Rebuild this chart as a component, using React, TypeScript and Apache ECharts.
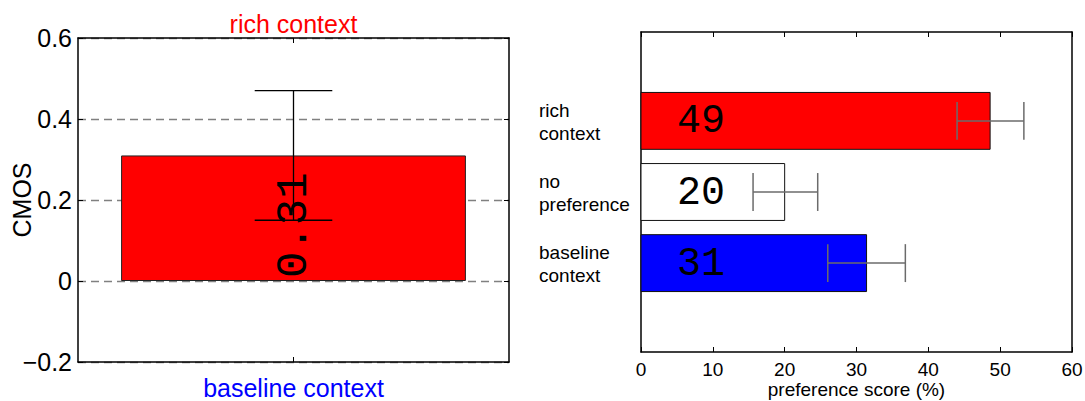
import React, { useEffect, useRef } from "react";
import * as echarts from "echarts";

// Left panel (CMOS)
const cmosBottomCategory = ["baseline context"];
const cmosTopCategory = ["rich context"];
const cmosValues = [0.31];
const cmosErrLow = [0.15];
const cmosErrHigh = [0.47];
const cmosLabels = ["0.31"];

// Right panel (preference)
const prefCategories = ["baseline\ncontext", "no\npreference", "rich\ncontext"];
const prefValues = [31.4, 20.0, 48.6];
const prefErrLow = [26.0, 15.6, 44.0];
const prefErrHigh = [36.8, 24.6, 53.3];
const prefLabels = ["31", "20", "49"];
const prefColors = ["#0000ff", "#ffffff", "#ff0000"];

const SANS = '"Liberation Sans", Arial, Helvetica, sans-serif';
const MONO = '"Liberation Mono", "DejaVu Sans Mono", monospace';

export default function App() {
  const ref = useRef<HTMLDivElement>(null);

  useEffect(() => {
    if (!ref.current) return;
    const chart = echarts.init(ref.current, undefined, { renderer: "svg" });

    const boxLine = { show: true, onZero: false, lineStyle: { color: "#000", width: 1.5 } };

    const option: any = {
      animation: false,
      backgroundColor: "#ffffff",
      textStyle: { fontFamily: SANS },
      grid: [
        { left: 78, top: 38, width: 431, height: 324, containLabel: false, outerBoundsMode: "none" },
        { left: 641, top: 32, width: 431, height: 320, containLabel: false, outerBoundsMode: "none" },
      ],
      xAxis: [
        {
          gridIndex: 0,
          type: "category",
          position: "bottom",
          data: cmosBottomCategory,
          axisLine: boxLine,
          axisTick: { show: true, inside: true, alignWithLabel: true, length: 5, lineStyle: { color: "#000" } },
          axisLabel: { color: "#0000ff", fontSize: 25, fontFamily: SANS, margin: 13 },
          splitLine: { show: false },
        },
        {
          gridIndex: 0,
          type: "category",
          position: "top",
          data: cmosTopCategory,
          axisLine: boxLine,
          axisTick: { show: true, inside: true, alignWithLabel: true, length: 5, lineStyle: { color: "#000" } },
          axisLabel: { color: "#ff0000", fontSize: 25, fontFamily: SANS, margin: 2 },
          splitLine: { show: false },
        },
        {
          gridIndex: 1,
          type: "value",
          position: "bottom",
          min: 0,
          max: 60,
          interval: 10,
          axisLine: boxLine,
          axisTick: { show: true, inside: true, length: 5, lineStyle: { color: "#000" } },
          axisLabel: { color: "#000", fontSize: 19, fontFamily: SANS, margin: 8 },
          splitLine: { show: false },
          name: "preference score (%)",
          nameLocation: "middle",
          nameGap: 28,
          nameMoveOverlap: false,
          nameTextStyle: { color: "#000", fontSize: 19, fontFamily: SANS },
        },
        {
          gridIndex: 1,
          type: "value",
          position: "top",
          min: 0,
          max: 60,
          interval: 10,
          axisLine: boxLine,
          axisTick: { show: true, inside: true, length: 5, lineStyle: { color: "#000" } },
          axisLabel: { show: false },
          splitLine: { show: false },
        },
      ],
      yAxis: [
        {
          gridIndex: 0,
          type: "value",
          position: "left",
          min: -0.2,
          max: 0.6,
          interval: 0.2,
          axisLine: boxLine,
          axisTick: { show: true, inside: true, length: 5, lineStyle: { color: "#000" } },
          axisLabel: {
            color: "#000",
            fontSize: 25,
            fontFamily: SANS,
            margin: 6,
            formatter: (v: number) => {
              const r = Math.round(v * 10) / 10;
              return r < 0 ? "\u2212" + String(Math.abs(r)) : String(r);
            },
          },
          splitLine: { show: true, lineStyle: { color: "#808080", type: [8, 5], width: 1.3 } },
          name: "CMOS",
          nameLocation: "middle",
          nameGap: 44,
          nameRotate: 90,
          nameMoveOverlap: false,
          nameTextStyle: { color: "#000", fontSize: 25, fontFamily: SANS },
        },
        {
          gridIndex: 0,
          type: "value",
          position: "right",
          min: -0.2,
          max: 0.6,
          interval: 0.2,
          axisLine: boxLine,
          axisTick: { show: true, inside: true, length: 5, lineStyle: { color: "#000" } },
          axisLabel: { show: false },
          splitLine: { show: false },
        },
        {
          gridIndex: 1,
          type: "value",
          position: "left",
          min: -0.25,
          max: 4.25,
          axisLine: boxLine,
          axisTick: { show: false },
          axisLabel: { show: false },
          splitLine: { show: false },
        },
        {
          gridIndex: 1,
          type: "value",
          position: "right",
          min: -0.25,
          max: 4.25,
          axisLine: boxLine,
          axisTick: { show: false },
          axisLabel: { show: false },
          splitLine: { show: false },
        },
      ],
      series: [
        {
          type: "bar",
          xAxisIndex: 0,
          yAxisIndex: 0,
          data: cmosValues,
          barWidth: "80%",
          itemStyle: { color: "#ff0000", borderColor: "#222", borderWidth: 1 },
          label: {
            show: true,
            position: "insideBottom",
            distance: 3,
            rotate: 90,
            align: "left",
            verticalAlign: "middle",
            formatter: (p: any) => cmosLabels[p.dataIndex],
            fontFamily: MONO,
            fontSize: 44,
            color: "#000",
          },
        },
        {
          type: "custom",
          xAxisIndex: 0,
          yAxisIndex: 0,
          z: 5,
          data: cmosValues.map((v, i) => [i, v, cmosErrLow[i], cmosErrHigh[i]]),
          renderItem: (params: any, api: any) => {
            const xi = api.value(0);
            const lo = api.coord([xi, api.value(2)]);
            const hi = api.coord([xi, api.value(3)]);
            const half = api.size([1, 0])[0] * 0.09;
            const st = { stroke: "#000", lineWidth: 1.3 };
            return {
              type: "group",
              children: [
                { type: "line", shape: { x1: lo[0], y1: lo[1], x2: hi[0], y2: hi[1] }, style: st },
                { type: "line", shape: { x1: lo[0] - half, y1: lo[1], x2: lo[0] + half, y2: lo[1] }, style: st },
                { type: "line", shape: { x1: hi[0] - half, y1: hi[1], x2: hi[0] + half, y2: hi[1] }, style: st },
              ],
            };
          },
        },
        {
          type: "custom",
          xAxisIndex: 2,
          yAxisIndex: 2,
          clip: false,
          data: prefValues.map((v, i) => [v, i + 1, prefErrLow[i], prefErrHigh[i], i]),
          renderItem: (params: any, api: any) => {
            const v = api.value(0);
            const y = api.value(1);
            const idx = api.value(4);
            const start = api.coord([0, y]);
            const end = api.coord([v, y]);
            const h = api.size([0, 0.8])[1];
            const lo = api.coord([api.value(2), y]);
            const hi = api.coord([api.value(3), y]);
            const capHalf = h / 3;
            const es = { stroke: "#6b6b6b", lineWidth: 1.5 };
            return {
              type: "group",
              children: [
                {
                  type: "rect",
                  shape: { x: start[0], y: start[1] - h / 2, width: end[0] - start[0], height: h },
                  style: { fill: prefColors[idx], stroke: "#111", lineWidth: 1 },
                },
                {
                  type: "text",
                  x: start[0] + 36,
                  y: start[1] + 1,
                  style: {
                    text: prefLabels[idx],
                    fill: "#000",
                    font: `40px ${MONO}`,
                    align: "left",
                    verticalAlign: "middle",
                    textAlign: "left",
                    textVerticalAlign: "middle",
                  },
                },
                { type: "line", shape: { x1: lo[0], y1: lo[1], x2: hi[0], y2: hi[1] }, style: es },
                { type: "line", shape: { x1: lo[0], y1: lo[1] - capHalf, x2: lo[0], y2: lo[1] + capHalf }, style: es },
                { type: "line", shape: { x1: hi[0], y1: hi[1] - capHalf, x2: hi[0], y2: hi[1] + capHalf }, style: es },
                {
                  type: "text",
                  x: start[0] - 102,
                  y: start[1] + 1,
                  style: {
                    text: prefCategories[idx],
                    fill: "#000",
                    font: `19px ${SANS}`,
                    lineHeight: 23,
                    align: "left",
                    verticalAlign: "middle",
                    textAlign: "left",
                    textVerticalAlign: "middle",
                  },
                },
              ],
            };
          },
        },
      ],
    };

    chart.setOption(option);
    return () => chart.dispose();
  }, []);

  return (
    <div
      ref={ref}
      style={{ position: "fixed", left: 0, top: 0, width: 1085, height: 401, background: "#fff" }}
    />
  );
}
